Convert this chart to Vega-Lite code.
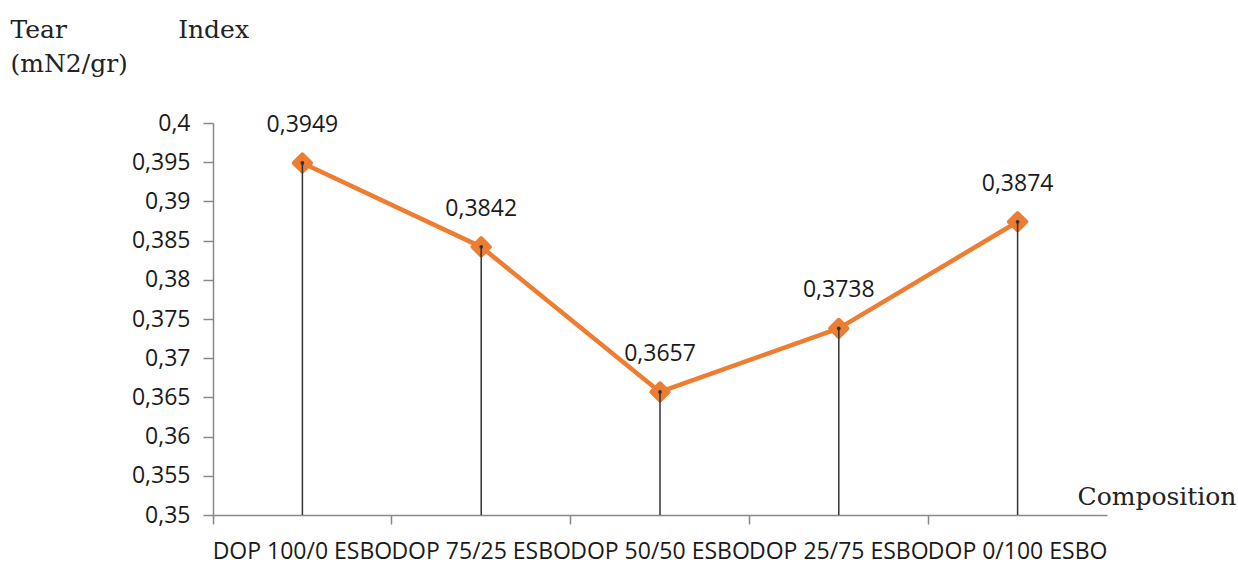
{
  "$schema": "https://vega.github.io/schema/vega-lite/v6.json",
  "width": 894,
  "height": 392,
  "autosize": {"type": "none"},
  "padding": {"left": 213, "top": 123, "right": 131, "bottom": 59},
  "background": "white",
  "config": {
    "view": {"stroke": null},
    "font": "Open Sans",
    "locale": {"number": {"decimal": ",", "thousands": ".", "grouping": [3], "currency": ["", " €"]}}
  },
  "data": {
    "values": [
      {"composition": "DOP 100/0 ESBO", "tear": 0.3949},
      {"composition": "DOP 75/25 ESBO", "tear": 0.3842},
      {"composition": "DOP 50/50 ESBO", "tear": 0.3657},
      {"composition": "DOP 25/75 ESBO", "tear": 0.3738},
      {"composition": "DOP 0/100 ESBO", "tear": 0.3874}
    ]
  },
  "encoding": {
    "x": {
      "field": "composition",
      "type": "nominal",
      "sort": null,
      "scale": {"paddingInner": 0, "paddingOuter": 0},
      "axis": {
        "title": "Composition",
        "titleFont": "DejaVu Serif",
        "titleFontSize": 25,
        "titleFontWeight": "normal",
        "titleColor": "#222222",
        "titleX": 864,
        "titleY": -11,
        "titleAlign": "left",
        "titleBaseline": "alphabetic",
        "labelAngle": 0,
        "labelFont": "Open Sans",
        "labelFontSize": 23,
        "labelColor": "#1a1a1a",
        "labelOverlap": false,
        "labelBound": false,
        "labelPadding": 16,
        "labelLimit": 0,
        "bandPosition": 0,
        "tickSize": 9,
        "tickColor": "#888888",
        "tickWidth": 1.5,
        "domainColor": "#888888",
        "domainWidth": 1.5,
        "grid": false
      }
    },
    "y": {
      "field": "tear",
      "type": "quantitative",
      "scale": {"domain": [0.35, 0.4], "zero": false, "nice": false},
      "axis": {
        "values": [0.35, 0.355, 0.36, 0.365, 0.37, 0.375, 0.38, 0.385, 0.39, 0.395, 0.4],
        "format": ".3~f",
        "title": ["Tear\u00a0\u00a0\u00a0\u00a0\u00a0\u00a0\u00a0\u00a0\u00a0\u00a0\u00a0\u00a0\u00a0\u00a0Index", "(mN2/gr)"],
        "titleFont": "DejaVu Serif",
        "titleFontSize": 25,
        "titleFontWeight": "normal",
        "titleColor": "#222222",
        "titleAngle": 0,
        "titleAlign": "left",
        "titleBaseline": "alphabetic",
        "titleX": -203,
        "titleY": -86,
        "titleLineHeight": 34,
        "labelFont": "Open Sans",
        "labelFontSize": 23,
        "labelColor": "#1a1a1a",
        "labelPadding": 13,
        "tickSize": 10,
        "tickColor": "#888888",
        "tickWidth": 1.5,
        "domainColor": "#888888",
        "domainWidth": 1.5,
        "grid": false
      }
    }
  },
  "layer": [
    {"mark": {"type": "line", "color": "#ED7D31", "strokeWidth": 4.5, "strokeJoin": "round", "strokeCap": "round"}},
    {"mark": {"type": "point", "shape": "diamond", "filled": true, "color": "#ED7D31", "stroke": "#ED7D31", "strokeWidth": 4, "strokeJoin": "round", "size": 300, "opacity": 1}},
    {"mark": {"type": "rule", "color": "#333333", "strokeWidth": 1.5}, "encoding": {"y2": {"datum": 0.35}}},
    {"mark": {"type": "point", "shape": "circle", "filled": true, "color": "#333333", "size": 14, "opacity": 1}},
    {"mark": {"type": "text", "dy": -38, "fontSize": 23, "font": "Open Sans", "color": "#1a1a1a"}, "encoding": {"text": {"field": "tear", "type": "quantitative", "format": ".4f"}}}
  ]
}
